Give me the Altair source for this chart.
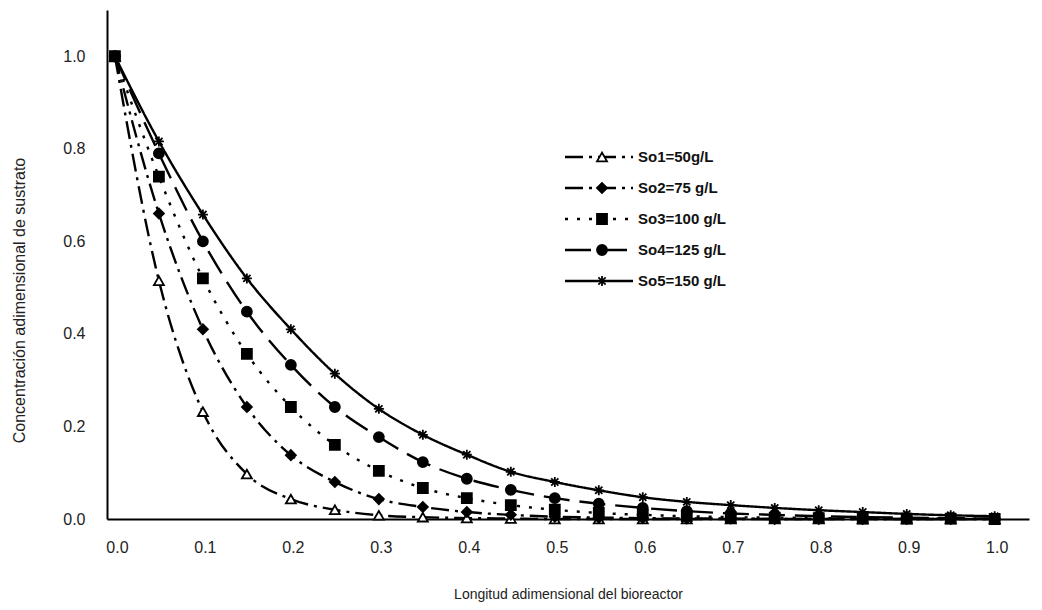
import altair as alt
import pandas as pd

# ---- data ----
x_vals = [0.0, 0.05, 0.1, 0.15, 0.2, 0.25, 0.3, 0.35, 0.4, 0.45, 0.5,
          0.55, 0.6, 0.65, 0.7, 0.75, 0.8, 0.85, 0.9, 0.95, 1.0]

so1 = [1.0, 0.515, 0.232, 0.097, 0.043, 0.020, 0.008, 0.004, 0.002, 0.001, 0.0,
       0.0, 0.0, 0.0, 0.0, 0.0, 0.0, 0.0, 0.0, 0.0, 0.0]
so2 = [1.0, 0.66, 0.41, 0.242, 0.138, 0.080, 0.043, 0.026, 0.015, 0.009, 0.005,
       0.003, 0.002, 0.001, 0.001, 0.0, 0.0, 0.0, 0.0, 0.0, 0.0]
so3 = [1.0, 0.74, 0.52, 0.357, 0.242, 0.160, 0.104, 0.067, 0.045, 0.030, 0.020,
       0.013, 0.009, 0.006, 0.004, 0.003, 0.002, 0.001, 0.001, 0.001, 0.0]
so4 = [1.0, 0.79, 0.60, 0.448, 0.333, 0.242, 0.177, 0.123, 0.087, 0.063, 0.045,
       0.033, 0.024, 0.017, 0.012, 0.009, 0.006, 0.004, 0.003, 0.002, 0.001]
so5 = [1.0, 0.816, 0.658, 0.52, 0.41, 0.314, 0.238, 0.182, 0.139, 0.102, 0.080,
       0.062, 0.047, 0.037, 0.030, 0.024, 0.019, 0.015, 0.011, 0.008, 0.006]

series_names = ["So1=50g/L", "So2=75 g/L", "So3=100 g/L", "So4=125 g/L", "So5=150 g/L"]
series_values = [so1, so2, so3, so4, so5]

x_ticks = [0.0, 0.1, 0.2, 0.3, 0.4, 0.5, 0.6, 0.7, 0.8, 0.9, 1.0]
y_ticks = [0.0, 0.2, 0.4, 0.6, 0.8, 1.0]

x_title = "Longitud adimensional del bioreactor"
y_title = "Concentración adimensional de sustrato"

# ---- styles ----
star_path = ("M-1,0L1,0M0,-1L0,1M-0.72,-0.72L0.72,0.72M-0.72,0.72L0.72,-0.72")
dashes = [[18, 6, 3, 6], [18, 6, 3, 6], [3, 9], [26, 10], [1, 0]]
shapes = ["triangle-up", "diamond", "square", "circle", star_path]
fills = ["white", "black", "black", "black", "transparent"]
sizes = [100, 100, 130, 130, 190]

rows = []
for name, vals in zip(series_names, series_values):
    for xv, yv in zip(x_vals, vals):
        rows.append({"serie": name, "x": xv, "y": yv})
df = pd.DataFrame(rows)

dash_enc = alt.StrokeDash("serie:N", scale=alt.Scale(domain=series_names, range=dashes), legend=None)
shape_enc = alt.Shape("serie:N", scale=alt.Scale(domain=series_names, range=shapes), legend=None)
fill_enc = alt.Fill("serie:N", scale=alt.Scale(domain=series_names, range=fills), legend=None)
size_enc = alt.Size("serie:N", scale=alt.Scale(domain=series_names, range=sizes), legend=None)

font = "Liberation Sans"

x_enc = alt.X("x:Q", scale=alt.Scale(domain=[-0.009, 1.039], nice=False, zero=False),
              axis=alt.Axis(values=x_ticks, format=".1f", title=x_title, grid=False,
                            ticks=False, domainColor="black", domainWidth=2,
                            labelFontSize=16, labelColor="#222", labelFont=font,
                            labelPadding=20, labelOffset=2, labelFlush=False,
                            titleFont=font, titleFontSize=14, titleFontWeight="normal",
                            titleColor="#222", titleX=461, titleY=75,
                            titleBaseline="middle"))
y_enc = alt.Y("y:Q", scale=alt.Scale(domain=[0, 1.1], nice=False),
              axis=alt.Axis(values=y_ticks, format=".1f", title=y_title, grid=False,
                            ticks=False, domainColor="black", domainWidth=2,
                            labelFontSize=16, labelColor="#222", labelFont=font,
                            labelPadding=22, labelFlush=False,
                            titleFont=font, titleFontSize=16, titleFontWeight="normal",
                            titleColor="#222", titleX=-88, titleY=290,
                            titleAngle=-90, titleBaseline="middle", titleAlign="center"))

lines = alt.Chart(df).mark_line(color="black", strokeWidth=2.4, interpolate="monotone").encode(
    x=x_enc, y=y_enc, strokeDash=dash_enc, detail="serie:N")

points = alt.Chart(df).mark_point(filled=True, stroke="black", strokeWidth=1.8, opacity=1).encode(
    x="x:Q", y="y:Q", shape=shape_enc, fill=fill_enc, size=size_enc)

# ---- manual legend (pixel positions inside plot area) ----
leg_top = 147
leg_step = 31
leg = pd.DataFrame({"serie": series_names,
                    "ly": [leg_top + leg_step * i for i in range(len(series_names))]})

leg_lines = alt.Chart(leg).mark_rule(color="black", strokeWidth=2.4).encode(
    x=alt.value(458), x2=alt.value(526), y=alt.Y("ly:Q", scale=None), strokeDash=dash_enc)
leg_points = alt.Chart(leg).mark_point(filled=True, stroke="black", strokeWidth=1.8, opacity=1).encode(
    x=alt.value(495), y=alt.Y("ly:Q", scale=None), shape=shape_enc, fill=fill_enc, size=size_enc)
leg_text = alt.Chart(leg).mark_text(align="left", baseline="middle", fontSize=15,
                                    fontWeight="bold", font=font, color="#111").encode(
    x=alt.value(531), y=alt.Y("ly:Q", scale=None), text="serie:N")

chart = alt.layer(lines, points, leg_lines, leg_points, leg_text).properties(
    width=922, height=509,
    padding={"left": 99, "top": 2, "right": 5, "bottom": 89},
    autosize=alt.AutoSizeParams(type="none"),
    background="white",
).configure_view(stroke=None)

chart.save("out.html", embed_options={"renderer": "svg", "actions": False})
